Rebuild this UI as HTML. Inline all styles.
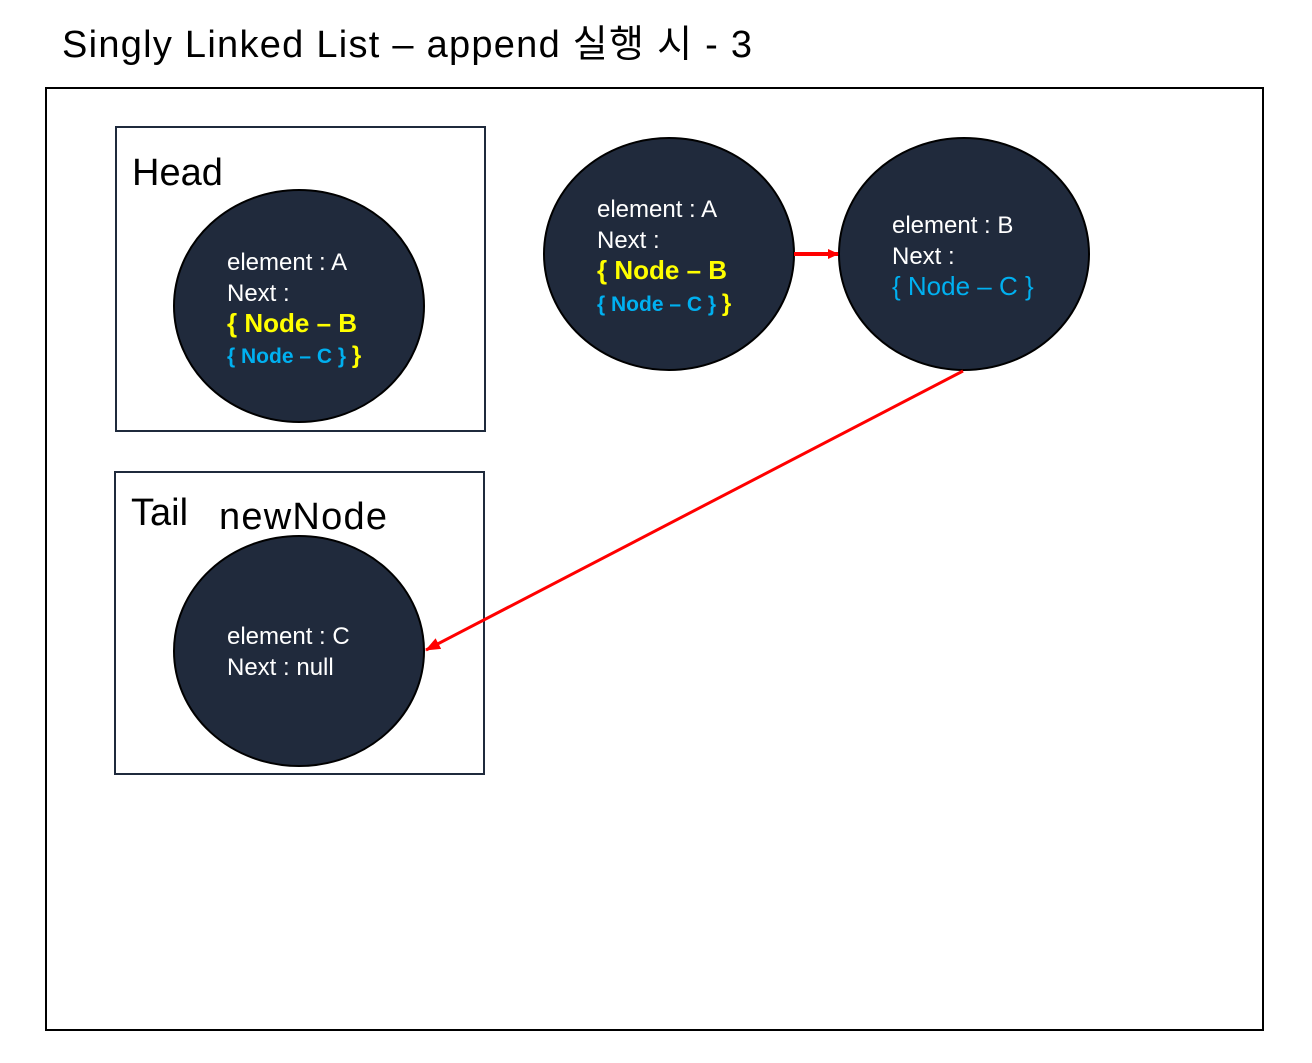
<!DOCTYPE html>
<html><head><meta charset="utf-8"><style>body{margin:0;background:#fff}</style></head><body>
<svg width="1312" height="1058" xmlns="http://www.w3.org/2000/svg" font-family="Liberation Sans, Noto Sans CJK KR, sans-serif">
<defs>
<marker id="ar" markerWidth="12" markerHeight="12" refX="10" refY="6" orient="auto" markerUnits="userSpaceOnUse"><path d="M0,1 L11,6 L0,11 z" fill="#f00"/></marker>
<marker id="ar2" markerWidth="16" markerHeight="14" refX="14" refY="7" orient="auto" markerUnits="userSpaceOnUse"><path d="M0,1 L15,7 L0,13 z" fill="#f00"/></marker>
</defs>
<text x="62" y="57" font-size="38" fill="#000" textLength="690" lengthAdjust="spacing">Singly Linked List – append 실행 시 - 3</text>
<rect x="46" y="88" width="1217" height="942" fill="none" stroke="#000" stroke-width="2"/>
<rect x="116" y="127" width="369" height="304" fill="none" stroke="#1f2a3c" stroke-width="2"/>
<rect x="115" y="472" width="369" height="302" fill="none" stroke="#1f2a3c" stroke-width="2"/>
<text x="132" y="185" font-size="38">Head</text>
<text x="131" y="525" font-size="38">Tail</text>
<text x="219" y="529" font-size="38" textLength="168" lengthAdjust="spacing">newNode</text>
<g fill="#202a3c" stroke="#000" stroke-width="2">
<ellipse cx="299" cy="306" rx="125" ry="116"/>
<ellipse cx="669" cy="254" rx="125" ry="116"/>
<ellipse cx="964" cy="254" rx="125" ry="116"/>
<ellipse cx="299" cy="651" rx="125" ry="115"/>
</g>
<line x1="794" y1="254" x2="838" y2="254" stroke="#f00" stroke-width="4" marker-end="url(#ar)"/>
<line x1="963" y1="371" x2="426" y2="650" stroke="#f00" stroke-width="3" marker-end="url(#ar2)"/>
<g font-size="24" fill="#fff">
<text x="227" y="270">element : A</text><text x="227" y="301">Next :</text>
<text x="227" y="332" font-size="26" font-weight="bold" fill="#ffff00">{ Node – B</text>
<text x="227" y="363" font-size="21" font-weight="bold" fill="#00b0f0">{ Node – C } <tspan fill="#ffff00" font-size="24">}</tspan></text>
<text x="597" y="217">element : A</text><text x="597" y="248">Next :</text>
<text x="597" y="279" font-size="26" font-weight="bold" fill="#ffff00">{ Node – B</text>
<text x="597" y="311" font-size="21" font-weight="bold" fill="#00b0f0">{ Node – C } <tspan fill="#ffff00" font-size="24">}</tspan></text>
<text x="892" y="233">element : B</text><text x="892" y="264">Next :</text>
<text x="892" y="295" font-size="26" fill="#00b0f0">{ Node – C }</text>
<text x="227" y="644">element : C</text><text x="227" y="675">Next : null</text>
</g>
</svg>
</body></html>
